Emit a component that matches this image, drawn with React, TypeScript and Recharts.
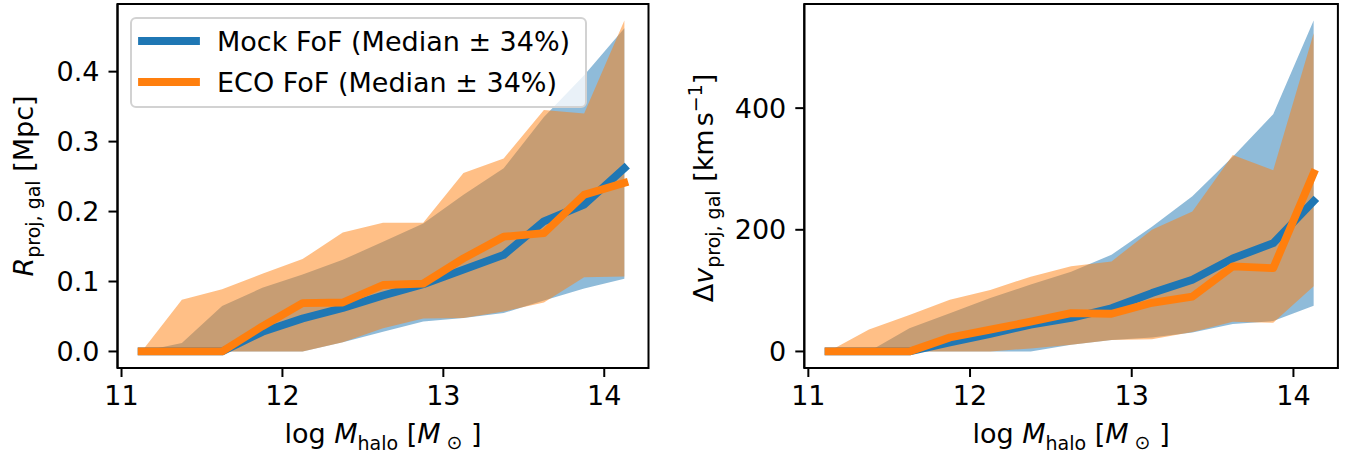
import { Area, ComposedChart, Label, Line, ReferenceArea, XAxis, YAxis } from "recharts";

// log halo mass bin centres
const massBins = [11.125, 11.375, 11.625, 11.875, 12.125, 12.375, 12.625, 12.875, 13.125, 13.375, 13.625, 13.875, 14.125];
const massTicks = [11, 12, 13, 14];

// projected radius [Mpc]
const mockRMed = [0, 0, 0, 0.028, 0.047, 0.062, 0.08, 0.096, 0.117, 0.138, 0.186, 0.21, 0.262];
const mockRLo = [0, 0, 0, 0, 0, 0.013, 0.028, 0.043, 0.048, 0.055, 0.073, 0.09, 0.104];
const mockRHi = [0, 0.012, 0.065, 0.091, 0.11, 0.131, 0.157, 0.183, 0.224, 0.262, 0.335, 0.395, 0.462];
const ecoRMed = [0, 0, 0, 0.036, 0.069, 0.07, 0.095, 0.097, 0.133, 0.164, 0.169, 0.224, 0.241];
const ecoRLo = [0, 0, 0, 0, 0, 0.013, 0.033, 0.047, 0.048, 0.057, 0.07, 0.106, 0.107];
const ecoRHi = [0, 0.074, 0.089, 0.111, 0.132, 0.17, 0.184, 0.184, 0.255, 0.276, 0.345, 0.34, 0.473];
const rTicks = [0, 0.1, 0.2, 0.3, 0.4];

// projected velocity offset [km/s]
const mockVMed = [0, 0, 0, 15, 29, 44, 55, 71, 96, 118, 153, 178, 247];
const mockVLo = [0, 0, 0, 0, 0, 0, 11, 19, 23, 31, 45, 50, 75];
const mockVHi = [0, 0, 38, 63, 88, 110, 131, 159, 205, 255, 320, 390, 544];
const ecoVMed = [0, 0, 0, 23, 36, 49, 63, 62, 80, 90, 140, 137, 293];
const ecoVLo = [0, 0, 0, 0, 0, 5, 11, 19, 20, 32, 49, 47, 107];
const ecoVHi = [0, 36, 60, 85, 101, 123, 140, 148, 200, 230, 323, 298, 523];
const vTicks = [0, 200, 400];

const BLUE = "#1f77b4";
const ORANGE = "#ff7f0e";
const FONT = "DejaVu Sans";
const FS = 27;
const SUB = 19;
const X_DOMAIN = [10.975, 14.275];

function buildRows(mLo: number[], mMed: number[], mHi: number[], eLo: number[], eMed: number[], eHi: number[]) {
  return massBins.map((m, i) => ({
    m,
    mockBand: [mLo[i], mHi[i]],
    mockMed: mMed[i],
    ecoBand: [eLo[i], eHi[i]],
    ecoMed: eMed[i],
  }));
}

const rRows = buildRows(mockRLo, mockRMed, mockRHi, ecoRLo, ecoRMed, ecoRHi);
const vRows = buildRows(mockVLo, mockVMed, mockVHi, ecoVLo, ecoVMed, ecoVHi);

const axisStyle = {
  tick: { fill: "#000", fontSize: FS, fontFamily: FONT },
  tickLine: { stroke: "#000", strokeWidth: 2 },
  axisLine: { stroke: "#000", strokeWidth: 2 },
  tickSize: 9,
  tickMargin: 9,
};

function XLabel(props: any) {
  const vb = props.viewBox || { x: 0, width: 0 };
  const cx = vb.x + vb.width / 2;
  return (
    <text x={cx} y={443} textAnchor="middle" fontFamily={FONT} fontSize={FS} fill="#000">
      <tspan>log </tspan>
      <tspan fontStyle="italic">M</tspan>
      <tspan fontSize={SUB} dy={7}>halo</tspan>
      <tspan dy={-7}> [</tspan>
      <tspan fontStyle="italic">M</tspan>
      <tspan fontSize={SUB} dy={6}> ⊙</tspan>
      <tspan dy={-6}> ]</tspan>
    </text>
  );
}

function RLabel() {
  return (
    <text x={33} y={186} transform="rotate(-90 33 186)" textAnchor="middle" fontFamily={FONT} fontSize={FS} fill="#000">
      <tspan fontStyle="italic">R</tspan>
      <tspan fontSize={SUB} dy={7}>proj, gal</tspan>
      <tspan dy={-7}> [Mpc]</tspan>
    </text>
  );
}

function VLabel() {
  return (
    <text x={33} y={188} transform="rotate(-90 33 188)" textAnchor="middle" fontFamily={FONT} fontSize={FS} fill="#000">
      <tspan>Δ</tspan>
      <tspan fontStyle="italic">v</tspan>
      <tspan fontSize={SUB} dy={7}>proj, gal</tspan>
      <tspan dy={-7}> [km</tspan>
      <tspan dx={3}>s</tspan>
      <tspan fontSize={SUB} dy={-11}>−1</tspan>
      <tspan dy={11}>]</tspan>
    </text>
  );
}

type PanelProps = {
  data: any[];
  width: number;
  marginLeft: number;
  marginRight: number;
  yDomain: number[];
  yTicks: number[];
  fmt: (v: number) => string;
  yLabel: any;
};

function Panel({ data, width, marginLeft, marginRight, yDomain, yTicks, fmt, yLabel }: PanelProps) {
  return (
    <ComposedChart
      width={width}
      height={458}
      data={data}
      margin={{ top: 4, right: marginRight, bottom: 30, left: marginLeft }}
    >
      <XAxis
        dataKey="m"
        type="number"
        domain={X_DOMAIN}
        ticks={massTicks}
        interval={0}
        allowDataOverflow
        height={60}
        {...axisStyle}
      >
        <Label content={<XLabel />} />
      </XAxis>
      <YAxis
        type="number"
        domain={yDomain}
        ticks={yTicks}
        interval={0}
        allowDataOverflow
        width={60}
        tickFormatter={fmt}
        {...axisStyle}
      >
        <Label content={yLabel} />
      </YAxis>
      <Area dataKey="mockBand" type="linear" stroke="none" fill={BLUE} fillOpacity={0.5} isAnimationActive={false} activeDot={false} />
      <Area dataKey="ecoBand" type="linear" stroke="none" fill={ORANGE} fillOpacity={0.5} isAnimationActive={false} activeDot={false} />
      <Line
        dataKey="mockMed"
        type="linear"
        stroke={BLUE}
        strokeWidth={7.8}
        strokeLinejoin="round"
        strokeLinecap="square"
        dot={false}
        activeDot={false}
        isAnimationActive={false}
      />
      <Line
        dataKey="ecoMed"
        type="linear"
        stroke={ORANGE}
        strokeWidth={7.8}
        strokeLinejoin="round"
        strokeLinecap="square"
        dot={false}
        activeDot={false}
        isAnimationActive={false}
      />
      <ReferenceArea
        x1={X_DOMAIN[0]}
        x2={X_DOMAIN[1]}
        y1={yDomain[0]}
        y2={yDomain[1]}
        fill="none"
        fillOpacity={0}
        stroke="#000"
        strokeWidth={2}
        ifOverflow="visible"
      />
    </ComposedChart>
  );
}

function LegendBox() {
  const rows = [
    { name: "Mock FoF (Median ± 34%)", color: BLUE, y: 41 },
    { name: "ECO FoF (Median ± 34%)", color: ORANGE, y: 82 },
  ];
  return (
    <svg width={660} height={120} style={{ position: "absolute", left: 0, top: 0 }}>
      <rect x={131} y={18} width={455} height={89} rx={5} fill="#fff" fillOpacity={0.8} stroke="#d2d2d2" strokeWidth={2} />
      {rows.map((r) => (
        <g key={r.name}>
          <line x1={142} x2={196} y1={r.y} y2={r.y} stroke={r.color} strokeWidth={7.8} strokeLinecap="square" />
          <text x={217} y={r.y + 9.5} fontFamily={FONT} fontSize={FS} fill="#000">
            {r.name}
          </text>
        </g>
      ))}
    </svg>
  );
}

export default function App() {
  return (
    <div style={{ position: "absolute", left: 0, top: 0, width: 1350, height: 458, background: "#fff", fontFamily: FONT }}>
      <div style={{ position: "absolute", left: 0, top: 0 }}>
        <Panel
          data={rRows}
          width={660}
          marginLeft={57.5}
          marginRight={11.5}
          yDomain={[-0.02365, 0.4967]}
          yTicks={rTicks}
          fmt={(v) => v.toFixed(1)}
          yLabel={<RLabel />}
        />
        <LegendBox />
      </div>
      <div style={{ position: "absolute", left: 680, top: 0 }}>
        <Panel
          data={vRows}
          width={670}
          marginLeft={64.3}
          marginRight={12.1}
          yDomain={[-27.2, 571.2]}
          yTicks={vTicks}
          fmt={(v) => String(v)}
          yLabel={<VLabel />}
        />
      </div>
    </div>
  );
}
